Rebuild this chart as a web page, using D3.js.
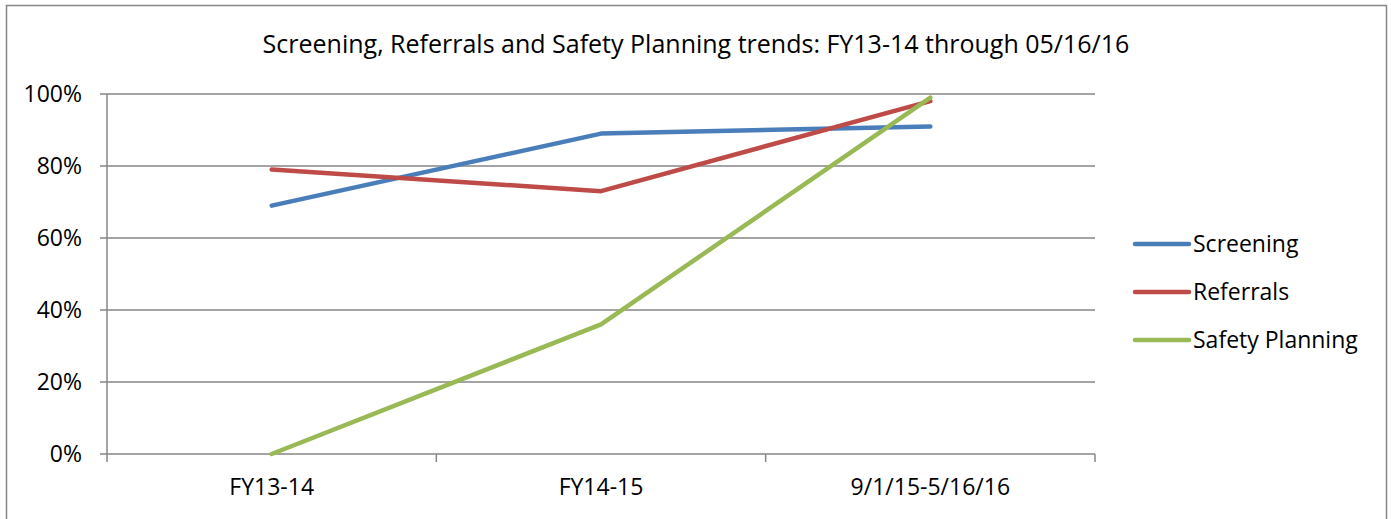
<!DOCTYPE html>
<html>
<head>
<meta charset="utf-8">
<script src="https://cdn.jsdelivr.net/npm/d3@7"></script>
<style>
  body { margin: 0; background: #fff; }
  text { font-family: "Open Sans", "Noto Sans", sans-serif; fill: #000; }
</style>
</head>
<body>
<div class="chart"></div>
<script>
// data
const categories = ["FY13-14", "FY14-15", "9/1/15-5/16/16"];
const screening = [0.69, 0.89, 0.91];
const referrals = [0.79, 0.73, 0.98];
const safetyPlanning = [0.00, 0.36, 0.99];
const yTicks = [0, 0.2, 0.4, 0.6, 0.8, 1.0];

const seriesNames = ["Screening", "Referrals", "Safety Planning"];
const seriesColors = ["#4a7ebb", "#be4b48", "#98b954"];
const series = [screening, referrals, safetyPlanning];

const width = 1391;
const height = 519;

const svg = d3.select(".chart").append("svg")
    .attr("width", width)
    .attr("height", height)
    .attr("viewBox", [0, 0, width, height]);

// outer frame
svg.append("rect")
    .attr("x", 6.5).attr("y", 5.5)
    .attr("width", 1380).attr("height", 530)
    .attr("fill", "none")
    .attr("stroke", "#868686")
    .attr("stroke-width", 1.5);

// title
svg.append("text")
    .attr("x", 696).attr("y", 53)
    .attr("text-anchor", "middle")
    .style("font-size", "25px")
    .text("Screening, Referrals and Safety Planning trends: FY13-14 through 05/16/16");

// scales
const x = d3.scaleBand()
    .domain(categories)
    .range([107, 1095]);

const y = d3.scaleLinear()
    .domain([0, 1])
    .range([454, 94]);

// gridlines
svg.append("g")
    .selectAll("line")
    .data(yTicks)
    .join("line")
    .attr("x1", 100).attr("x2", 1095)
    .attr("y1", d => y(d)).attr("y2", d => y(d))
    .attr("stroke", "#868686")
    .attr("stroke-width", 1.5);

// y axis line
svg.append("line")
    .attr("x1", 107).attr("x2", 107)
    .attr("y1", y(1)).attr("y2", y(0))
    .attr("stroke", "#868686")
    .attr("stroke-width", 1.5);

// x tick marks at band edges
const edges = categories.map(c => x(c)).concat([x.range()[1]]);
svg.append("g")
    .selectAll("line")
    .data(edges)
    .join("line")
    .attr("x1", d => d).attr("x2", d => d)
    .attr("y1", y(0)).attr("y2", y(0) + 8)
    .attr("stroke", "#868686")
    .attr("stroke-width", 1.5);

// y labels
svg.append("g")
    .selectAll("text")
    .data(yTicks)
    .join("text")
    .attr("x", 82)
    .attr("y", d => y(d) + 8)
    .attr("text-anchor", "end")
    .style("font-size", "23px")
    .text(d => d3.format(".0%")(d));

// x labels
svg.append("g")
    .selectAll("text")
    .data(categories)
    .join("text")
    .attr("x", d => x(d) + x.bandwidth() / 2)
    .attr("y", 495)
    .attr("text-anchor", "middle")
    .style("font-size", "23px")
    .text(d => d);

// lines
const line = d3.line()
    .x((d, i) => x(categories[i]) + x.bandwidth() / 2)
    .y(d => y(d));

svg.append("g")
    .selectAll("path")
    .data(series)
    .join("path")
    .attr("d", line)
    .attr("fill", "none")
    .attr("stroke", (d, i) => seriesColors[i])
    .attr("stroke-width", 4.5)
    .attr("stroke-linecap", "round")
    .attr("stroke-linejoin", "round");

// legend
const legend = svg.append("g")
    .selectAll("g")
    .data(seriesNames)
    .join("g")
    .attr("transform", (d, i) => `translate(1135, ${244 + i * 48})`);

legend.append("line")
    .attr("x1", 0).attr("x2", 54)
    .attr("stroke", (d, i) => seriesColors[i])
    .attr("stroke-width", 4.5)
    .attr("stroke-linecap", "round");

legend.append("text")
    .attr("x", 58)
    .attr("y", 8)
    .style("font-size", "23px")
    .text(d => d);
</script>
</body>
</html>
